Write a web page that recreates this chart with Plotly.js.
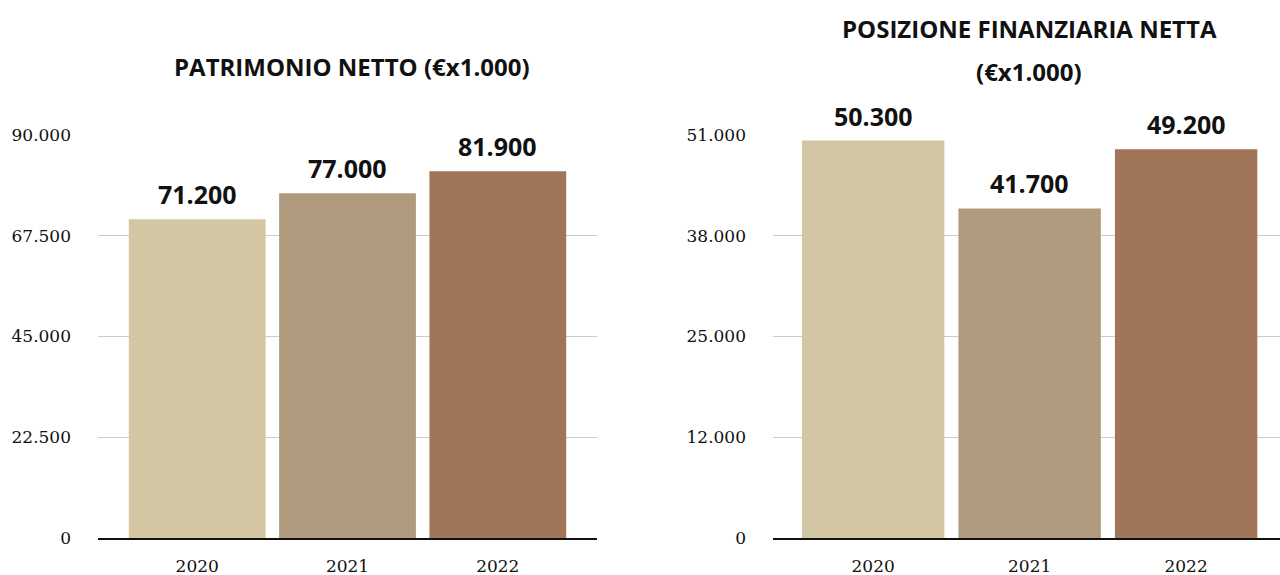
<!DOCTYPE html>
<html>
<head>
<meta charset="utf-8">
<script src="https://cdn.plot.ly/plotly-3.0.1.min.js"></script>
<style>
  html, body { margin: 0; padding: 0; background: #fff; }
  #chart { width: 1280px; height: 575px; }
</style>
</head>
<body>
<div id="chart"></div>
<script>
// data
const years = ['2020', '2021', '2022']
const patrimonioNetto = [71200, 77000, 81900]
const posizioneFinanziaria = [50300, 41700, 49200]
const barColors = ['#d3c6a2', '#b09a7e', '#a07558']

const leftTicks = [0, 22500, 45000, 67500, 90000]
const rightTicks = [0, 12750, 25500, 38250, 51000]
const rightTickText = ['0', '12.000', '25.000', '38.000', '51.000']

const leftTitle = 'PATRIMONIO NETTO (€x1.000)'
const rightTitle1 = 'POSIZIONE FINANZIARIA NETTA'
const rightTitle2 = '(€x1.000)'

const TITLE_FONT = '"Open Sans", Lato, sans-serif'
const TICK_FONT = '"DejaVu Serif", "Liberation Serif", serif'

// 71200 -> "71.200"
function fmt(v) {
  return String(v).replace(/\B(?=(\d{3})+(?!\d))/g, '.')
}

function barTrace(values, xa, ya) {
  return {
    type: 'bar',
    x: years,
    y: values,
    xaxis: xa,
    yaxis: ya,
    width: 0.91,
    marker: { color: barColors },
    hoverinfo: 'x+y',
    showlegend: false
  }
}

function valueLabels(values, xref, yref) {
  return values.map((v, i) => ({
    x: i,
    y: v,
    xref: xref,
    yref: yref,
    text: '<b>' + fmt(v) + '</b>',
    showarrow: false,
    yanchor: 'bottom',
    yshift: 6,
    font: { family: TITLE_FONT, size: 25, color: '#111' }
  }))
}

function titleNote(text, x, y) {
  return {
    text: '<b>' + text + '</b>',
    xref: 'paper', yref: 'paper',
    x: x / 1280, y: 1 - y / 575,
    xanchor: 'center', yanchor: 'middle',
    showarrow: false,
    font: { family: TITLE_FONT, size: 24, color: '#111' }
  }
}

const yDomain = [1 - 538 / 575, 1 - 135 / 575]

const axisX = {
  type: 'category',
  showgrid: false,
  showline: true,
  linecolor: '#111',
  linewidth: 2,
  ticks: '',
  tickfont: { family: TICK_FONT, size: 17, color: '#111' },
  ticklabelstandoff: 12,
  zeroline: false,
  fixedrange: true
}

const axisY = {
  showgrid: true,
  gridcolor: '#cccccc',
  gridwidth: 1,
  zeroline: false,
  showline: false,
  ticks: '',
  tickfont: { family: TICK_FONT, size: 17, color: '#111' },
  ticklabelstandoff: 26,
  domain: yDomain,
  fixedrange: true
}

const layout = {
  width: 1280,
  height: 575,
  margin: { l: 0, r: 0, t: 0, b: 0 },
  paper_bgcolor: '#ffffff',
  plot_bgcolor: '#ffffff',
  separators: ',.',
  showlegend: false,
  xaxis: Object.assign({}, axisX, {
    domain: [98 / 1280, 597 / 1280],
    anchor: 'y',
    range: [-0.66, 2.66]
  }),
  yaxis: Object.assign({}, axisY, {
    anchor: 'x',
    range: [0, 90000],
    tickvals: leftTicks,
    tickformat: ',d'
  }),
  xaxis2: Object.assign({}, axisX, {
    domain: [773 / 1280, 1],
    anchor: 'y2',
    range: [-0.64, 2.6]
  }),
  yaxis2: Object.assign({}, axisY, {
    anchor: 'x2',
    range: [0, 51000],
    tickvals: rightTicks,
    ticktext: rightTickText
  }),
  annotations: [
    titleNote(leftTitle, 352, 67),
    titleNote(rightTitle1, 1029, 29),
    titleNote(rightTitle2, 1029, 71)
  ]
    .concat(valueLabels(patrimonioNetto, 'x', 'y'))
    .concat(valueLabels(posizioneFinanziaria, 'x2', 'y2'))
}

Plotly.newPlot('chart', [
  barTrace(patrimonioNetto, 'x', 'y'),
  barTrace(posizioneFinanziaria, 'x2', 'y2')
], layout, { staticPlot: true })
</script>
</body>
</html>
